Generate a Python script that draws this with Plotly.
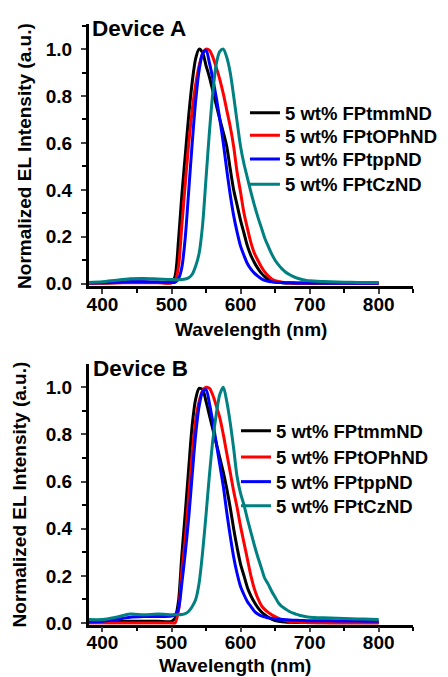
import plotly.graph_objects as go

# wavelength grid (nm) shared by all spectra
wavelength = ([380, 400, 420, 440, 460, 480]
              + list(range(500, 705, 5))
              + [720, 740, 760, 780, 800])

series_names = ["5 wt% FPtmmND", "5 wt% FPtOPhND", "5 wt% FPtppND", "5 wt% FPtCzND"]
series_colors = ["#000000", "#ff0000", "#0000ff", "#008080"]

# ---- Device A ----
a_tmm = [0.003, 0.003, 0.005, 0.007, 0.007, 0.006,
         0.005, 0.03, 0.18, 0.38, 0.55, 0.72, 0.86, 0.96, 1.0, 0.985,
         0.93, 0.88, 0.82, 0.76, 0.70, 0.645, 0.585, 0.49, 0.40, 0.335,
         0.27, 0.215, 0.16, 0.12, 0.09, 0.065, 0.045, 0.03, 0.018, 0.012,
         0.008, 0.006, 0.004, 0.003, 0.003, 0.002, 0.002, 0.002, 0.002, 0.001, 0.001,
         0.001, 0.001, 0.001, 0.001, 0.001]
a_oph = [0.002, 0.002, 0.003, 0.004, 0.004, 0.004,
         0.003, 0.01, 0.07, 0.25, 0.43, 0.60, 0.74, 0.85, 0.93, 0.98,
         1.0, 0.995, 0.965, 0.92, 0.87, 0.81, 0.74, 0.67, 0.585, 0.475,
         0.39, 0.30, 0.235, 0.175, 0.13, 0.10, 0.072, 0.05, 0.033, 0.02,
         0.013, 0.009, 0.006, 0.004, 0.003, 0.003, 0.002, 0.002, 0.002, 0.002, 0.002,
         0.001, 0.001, 0.001, 0.001, 0.001]
a_pp = [0.003, 0.004, 0.006, 0.008, 0.008, 0.007,
        0.006, 0.006, 0.02, 0.07, 0.20, 0.40, 0.60, 0.78, 0.91, 0.98,
        0.995, 0.94, 0.87, 0.79, 0.70, 0.60, 0.485, 0.38, 0.29, 0.22,
        0.16, 0.12, 0.085, 0.062, 0.045, 0.032, 0.021, 0.014, 0.01, 0.008,
        0.006, 0.005, 0.005, 0.004, 0.004, 0.004, 0.003, 0.003, 0.003, 0.003, 0.003,
        0.002, 0.002, 0.002, 0.002, 0.002]
a_cz = [0.005, 0.008, 0.015, 0.021, 0.022, 0.02,
        0.018, 0.017, 0.017, 0.018, 0.02, 0.025, 0.04, 0.075, 0.13, 0.25,
        0.45, 0.65, 0.82, 0.94, 0.99, 1.0, 0.965, 0.90, 0.80, 0.69,
        0.585, 0.51, 0.45, 0.39, 0.335, 0.285, 0.24, 0.195, 0.16, 0.127,
        0.10, 0.08, 0.063, 0.05, 0.04, 0.032, 0.026, 0.021, 0.017, 0.014, 0.012,
        0.009, 0.007, 0.006, 0.005, 0.005]

# ---- Device B ----
b_tmm = [0.003, 0.004, 0.006, 0.008, 0.008, 0.008,
         0.007, 0.02, 0.09, 0.29, 0.47, 0.66, 0.84, 0.95, 0.995, 0.99,
         0.94, 0.88, 0.82, 0.76, 0.70, 0.64, 0.57, 0.49, 0.40, 0.32,
         0.25, 0.20, 0.15, 0.115, 0.088, 0.065, 0.048, 0.035, 0.025, 0.016,
         0.01, 0.007, 0.005, 0.004, 0.003, 0.003, 0.002, 0.002, 0.002, 0.002, 0.002,
         0.001, 0.001, 0.001, 0.001, 0.001]
b_oph = [0.0, 0.0, 0.0, 0.0, 0.0, 0.0,
         0.0, 0.0, 0.05, 0.22, 0.36, 0.54, 0.72, 0.86, 0.94, 0.985,
         1.0, 0.995, 0.965, 0.92, 0.87, 0.80, 0.72, 0.64, 0.56, 0.49,
         0.41, 0.34, 0.27, 0.20, 0.145, 0.105, 0.075, 0.058, 0.045, 0.035,
         0.027, 0.02, 0.015, 0.011, 0.008, 0.006, 0.004, 0.003, 0.002, 0.002, 0.001,
         0.001, 0.0, 0.0, 0.0, 0.0]
b_pp = [0.005, 0.008, 0.015, 0.025, 0.028, 0.028,
        0.03, 0.035, 0.06, 0.17, 0.30, 0.45, 0.63, 0.80, 0.92, 0.98,
        0.99, 0.93, 0.85, 0.76, 0.67, 0.58, 0.47, 0.37, 0.28, 0.21,
        0.155, 0.12, 0.09, 0.07, 0.05, 0.038, 0.03, 0.026, 0.022, 0.02,
        0.017, 0.016, 0.015, 0.014, 0.013, 0.012, 0.012, 0.011, 0.011, 0.01, 0.01,
        0.01, 0.009, 0.009, 0.008, 0.008]
b_cz = [0.015, 0.015, 0.025, 0.038, 0.035, 0.038,
        0.035, 0.035, 0.035, 0.036, 0.04, 0.05, 0.07, 0.10, 0.17, 0.30,
        0.46, 0.63, 0.78, 0.89, 0.97, 1.0, 0.94, 0.85, 0.74, 0.62,
        0.55, 0.50, 0.44, 0.385, 0.33, 0.28, 0.235, 0.19, 0.165, 0.135,
        0.11, 0.085, 0.07, 0.06, 0.05, 0.043, 0.038, 0.033, 0.03, 0.027, 0.025,
        0.022, 0.02, 0.018, 0.017, 0.015]

W, H = 448, 677
FONT = "Liberation Sans, Arial, sans-serif"


def px(x):
    return x / W


def py(y):
    return 1 - y / H


fig = go.Figure()

# one legend per entry so the rows sit at the same spacing as the original
panels = [
    ("x", "y", [a_tmm, a_oph, a_pp, a_cz], 236, [106.7, 129.5, 153.5, 179]),
    ("x2", "y2", [b_tmm, b_oph, b_pp, b_cz], 227, [429, 455.5, 480.5, 505]),
]
legend_common = dict(
    font=dict(family=FONT, size=18.5, color="black", weight="bold"),
    bgcolor="rgba(0,0,0,0)", borderwidth=0, xanchor="left", yanchor="middle",
)
legends = {}
n = 0
for xa, ya, data, lx, rows in panels:
    for name, color, vals, ry in zip(series_names, series_colors, data, rows):
        n += 1
        key = "legend" if n == 1 else f"legend{n}"
        legends[key] = dict(x=px(lx), y=py(ry), **legend_common)
        fig.add_trace(go.Scatter(
            x=wavelength, y=vals, name=name, mode="lines",
            line=dict(color=color, width=3, shape="spline", smoothing=0.8),
            xaxis=xa, yaxis=ya, legend=key,
        ))

tickfont = dict(family=FONT, size=19, color="black", weight="bold")
xcommon = dict(
    range=[380, 850], tickvals=[400, 500, 600, 700, 800], ticks="outside",
    ticklen=5, tickwidth=2, linewidth=2.5, linecolor="black", showgrid=False,
    zeroline=False, tickfont=tickfont, ticklabelstandoff=-6,
    minor=dict(dtick=50, tick0=0, ticks="outside", ticklen=4, tickwidth=2, tickcolor="black"),
)
ycommon = dict(
    tickvals=[0, 0.2, 0.4, 0.6, 0.8, 1.0], tickformat=".1f", ticks="outside",
    ticklen=5, tickwidth=2, linewidth=2.5, linecolor="black", showgrid=False,
    zeroline=False, tickfont=tickfont, ticklabelstandoff=5,
    minor=dict(dtick=0.1, tick0=0, ticks="outside", ticklen=4, tickwidth=2, tickcolor="black"),
)

fig.update_layout(
    width=W, height=H,
    margin=dict(l=0, r=0, t=0, b=0),
    paper_bgcolor="white", plot_bgcolor="white",
    xaxis=dict(domain=[px(79), px(405)], anchor="y", **xcommon),
    yaxis=dict(domain=[py(282), py(16)], anchor="x", range=[-0.011, 1.108], **ycommon),
    xaxis2=dict(domain=[px(79), px(405)], anchor="y2", **xcommon),
    yaxis2=dict(domain=[py(625), py(360.7)], anchor="x2", range=[-0.007, 1.099], **ycommon),
    showlegend=True,
    **legends,
)

title_font = dict(family=FONT, size=19, color="black", weight="bold")
label_font = dict(family=FONT, size=22.5, color="black", weight="bold")
annotations = [
    dict(text="Device A", x=px(80), y=py(21), xanchor="left", yanchor="middle", font=label_font),
    dict(text="Device B", x=px(81), y=py(365), xanchor="left", yanchor="middle", font=label_font),
    dict(text="Wavelength (nm)", x=px(242), y=py(326), xanchor="center", yanchor="middle", font=title_font),
    dict(text="Wavelength (nm)", x=px(226), y=py(666), xanchor="center", yanchor="middle", font=title_font),
    dict(text="Normalized EL Intensity (a.u.)", x=px(14), y=py(150), textangle=-90,
         xanchor="center", yanchor="middle", font=title_font),
    dict(text="Normalized EL Intensity (a.u.)", x=px(9), y=py(493), textangle=-90,
         xanchor="center", yanchor="middle", font=title_font),
]
for a in annotations:
    a.update(xref="paper", yref="paper", showarrow=False)
fig.update_layout(annotations=annotations)

fig.write_html("out.html")
